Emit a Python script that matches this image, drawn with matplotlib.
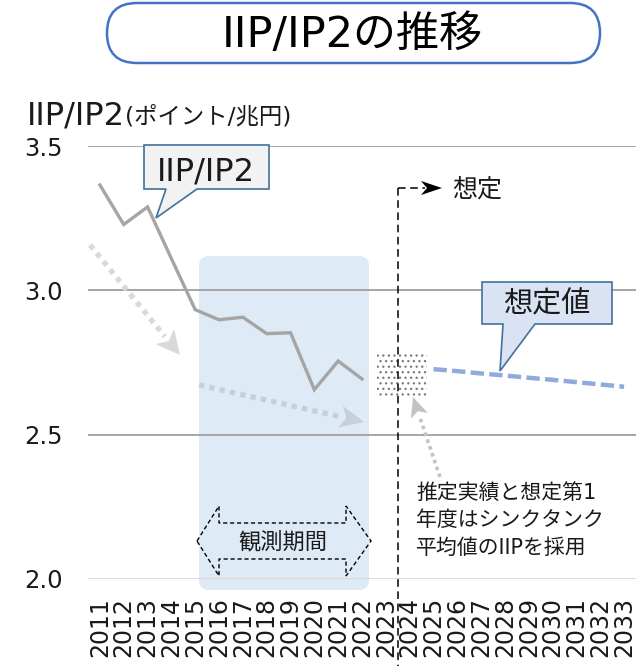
import matplotlib
matplotlib.use("Agg")
import matplotlib.pyplot as plt
import matplotlib.transforms as mtransforms
from matplotlib.patches import Polygon, FancyBboxPatch, Rectangle
from matplotlib.lines import Line2D
import numpy as np

plt.rcParams['font.family'] = ['DejaVu Sans', 'Noto Sans CJK JP']
plt.rcParams['hatch.linewidth'] = 0.9

# ---- data ----
years = [str(y) for y in range(2011, 2034)]
iip_years = [str(y) for y in range(2011, 2023)]
iip_values = [3.365, 3.228, 3.289, 3.110, 2.933, 2.898, 2.907, 2.850, 2.853, 2.656, 2.755, 2.693]
proj_years = [str(y) for y in range(2025, 2034)]
proj_values = [2.727, 2.720, 2.712, 2.705, 2.697, 2.690, 2.682, 2.674, 2.666]
yticks = [2.0, 2.5, 3.0, 3.5]
ytick_labels = ["2.0", "2.5", "3.0", "3.5"]

W, H = 636, 666
fig = plt.figure(figsize=(W / 100, H / 100), dpi=100)
fig.patch.set_facecolor("white")
pxT = mtransforms.Affine2D().scale(1 / W, -1 / H).translate(0, 1) + fig.transFigure

ax = fig.add_axes([88 / W, 1 - 579 / H, 548 / W, 433 / H])
ax.set_xlim(-0.5, len(years) - 0.5)
ax.set_ylim(2.0, 3.5)
ax.set_xticks(range(len(years)))
ax.set_xticklabels(years, rotation=90, fontsize=17, color="#1a1a1a")
ax.set_yticks(yticks)
ax.set_yticklabels(ytick_labels, fontsize=17.5, color="#1a1a1a")
ax.tick_params(length=0)
ax.tick_params(axis="y", pad=18)
ax.tick_params(axis="x", pad=13)
for s in ax.spines.values():
    s.set_visible(False)
ax.set_axisbelow(True)
ax.yaxis.grid(True, color="#a6a6a6", lw=1.4)
ax.get_ygridlines()[0].set_color("#d9d9d9")
ax.patch.set_alpha(0)

idx = {y: i for i, y in enumerate(years)}

# observation period box
ax.add_patch(FancyBboxPatch((199, 256), 170, 334, boxstyle="round,pad=0,rounding_size=10",
                            transform=pxT, facecolor="#deeaf6", edgecolor="none",
                            zorder=0.3, clip_on=False))

# IIP/IP2 line
ax.plot([idx[y] for y in iip_years], iip_values, color="#a5a5a5", lw=2.4, zorder=3,
        solid_joinstyle="miter")
# projected line
ax.plot([idx[y] for y in proj_years], proj_values, color="#8faadc", lw=3.2, zorder=3,
        linestyle=(0, (3.0, 1.2)), clip_on=False)

# stippled box
ax.add_patch(Rectangle((377, 353), 50, 43, transform=pxT, facecolor="none",
                       edgecolor="#7a7a7a", lw=0, hatch="...", zorder=2, clip_on=False))


def dotted_arrow(tail, tip, color, lw, hl, hw):
    tail = np.array(tail, float)
    tip = np.array(tip, float)
    u = (tip - tail) / np.linalg.norm(tip - tail)
    n = np.array([-u[1], u[0]])
    base = tip - hl * u
    ax.add_line(Line2D([tail[0], base[0]], [tail[1], base[1]], transform=pxT, color=color,
                       lw=lw, linestyle=(0, (1, 1)), zorder=2.5, clip_on=False))
    ax.add_patch(Polygon([tip, base + hw * n, base + 0.25 * hl * u, base - hw * n],
                         closed=True, transform=pxT, facecolor=color, edgecolor="none",
                         zorder=2.5, clip_on=False))


dotted_arrow((90, 245), (180, 355), "#d9d9d9", 3.8, 24, 12)
dotted_arrow((199, 385), (364, 422), "#c6cfda", 3.8, 24, 11)
dotted_arrow((440, 477), (413, 397), "#c3c3c3", 2.6, 20, 9)

# dashed divider and 想定 arrow
ax.add_line(Line2D([398, 398], [188, 666], transform=pxT, color="black", lw=1.1,
                   linestyle=(0, (5, 3)), zorder=4, clip_on=False))
ax.add_line(Line2D([398, 425], [188, 188], transform=pxT, color="black", lw=1.1,
                   linestyle=(0, (5, 3)), zorder=4, clip_on=False))
ax.add_patch(Polygon([(421, 181), (442, 188), (421, 195), (427, 188)], closed=True,
                     transform=pxT, facecolor="black", edgecolor="none", zorder=4, clip_on=False))
fig.text(452, 190, "想定", transform=pxT, fontsize=18, ha="left", va="center", color="#1a1a1a")

# callouts
ax.add_patch(Polygon([(144, 145), (269, 145), (269, 189), (197, 189), (156, 218), (166, 189), (144, 189)],
                     closed=True, transform=pxT, facecolor="#f2f2f2", edgecolor="#41719c",
                     lw=1.2, zorder=5, clip_on=False))
fig.text(206, 180, "IIP/IP2", transform=pxT, fontsize=23, ha="center", va="baseline",
         color="#1a1a1a", zorder=6)
ax.add_patch(Polygon([(482, 282), (612, 282), (612, 324), (535, 324), (500, 371), (503, 324), (482, 324)],
                     closed=True, transform=pxT, facecolor="#dae3f3", edgecolor="#41719c",
                     lw=1.2, zorder=5, clip_on=False))
fig.text(547, 304, "想定値", transform=pxT, fontsize=21, ha="center", va="center",
         color="#1a1a1a", zorder=6)

# observation double arrow
ax.add_patch(Polygon([(197, 541), (219, 506), (219, 523), (346, 523), (346, 506), (371, 541),
                      (346, 576), (346, 559), (219, 559), (219, 576)], closed=True,
                     transform=pxT, fill=False, edgecolor="black", lw=1.0,
                     linestyle=(0, (3, 2)), zorder=4, clip_on=False))
fig.text(283, 542, "観測期間", transform=pxT, fontsize=16, ha="center", va="center", color="#1a1a1a")

# note text
note_lines = ["推定実績と想定第1", "年度はシンクタンク", "平均値のIIPを採用"]
for i, line in enumerate(note_lines):
    fig.text(416, 493 + 27.5 * i, line, transform=pxT, fontsize=15, ha="left", va="center",
             color="#1a1a1a")

# title
fig.patches.append(FancyBboxPatch((107, 3), 493, 60, boxstyle="round,pad=0,rounding_size=30",
                                  transform=pxT, facecolor="white", edgecolor="#4472c4", lw=1.8))
fig.text(352, 35, "IIP/IP2の推移", transform=pxT, fontsize=31, ha="center", va="center",
         color="black")

# y-axis title
t1 = fig.text(27, 124, "IIP/IP2", transform=pxT, fontsize=23, ha="left", va="baseline", color="#1a1a1a")
r = fig.canvas.get_renderer()
bb = t1.get_window_extent(renderer=r)
fig.text(bb.x1 / W, (H - 124) / H, "(ポイント/兆円)", fontsize=16.8, ha="left", va="baseline",
         color="#1a1a1a")

fig.savefig("out.png", dpi=100)
